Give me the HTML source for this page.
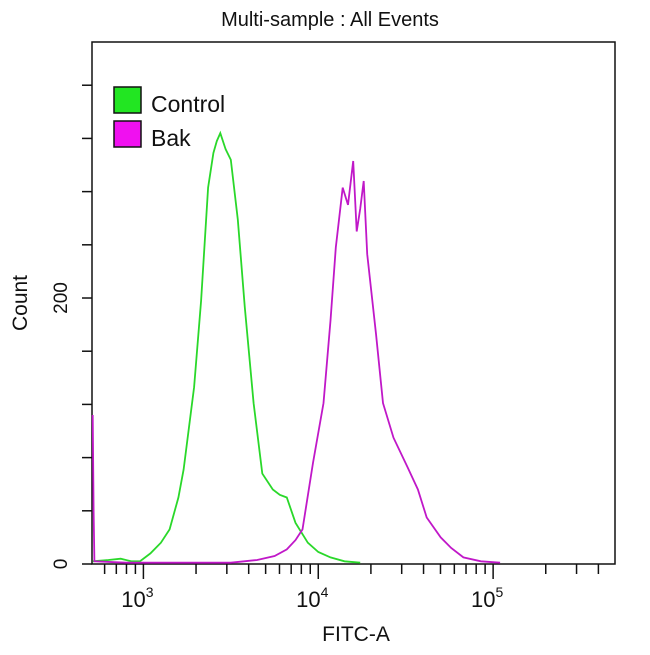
<!DOCTYPE html>
<html><head><meta charset="utf-8"><style>
body{margin:0;background:#fff;}
svg text{font-family:"Liberation Sans",sans-serif;fill:#111;}
</style></head><body>
<svg id="chart" width="650" height="650" xmlns="http://www.w3.org/2000/svg">
<text x="330" y="26" font-size="20" text-anchor="middle">Multi-sample : All Events</text>
<rect x="92" y="42" width="523" height="522" fill="none" stroke="#111" stroke-width="1.5"/>
<text transform="translate(27,303) rotate(-90)" font-size="21" text-anchor="middle">Count</text>
<text x="356" y="641" font-size="21" text-anchor="middle">FITC-A</text>
<g id="axes"></g>
<g id="series"></g>
<g>
<rect x="114" y="87" width="27" height="26" fill="#22e622" stroke="#111" stroke-width="1.5"/>
<text x="151" y="112" font-size="23">Control</text>
<rect x="114" y="121" width="27" height="26" fill="#f010f0" stroke="#111" stroke-width="1.5"/>
<text x="151" y="146" font-size="23">Bak</text>
</g>
</svg>
<script>
const controlLog = [2.71,2.80,2.87,2.93,2.98,3.04,3.10,3.15,3.20,3.23,3.29,3.33,3.37,3.40,3.42,3.44,3.47,3.50,3.54,3.58,3.63,3.68,3.74,3.78,3.82,3.87,3.94,4.00,4.07,4.15,4.24];
const controlCount = [2,3,4,2,2,8,16,26,50,71,133,198,283,309,318,324,312,304,259,193,121,68,56,52,50,31,16,9,5,2,1];
const bakLog = [2.71,2.715,2.72,2.90,3.10,3.30,3.50,3.65,3.75,3.82,3.87,3.91,3.97,4.03,4.07,4.10,4.14,4.17,4.20,4.22,4.24,4.26,4.28,4.33,4.37,4.43,4.51,4.57,4.62,4.70,4.76,4.83,4.93,5.04];
const bakCount = [112,40,2,1,1,1,1,3,6,11,18,26,76,121,183,238,283,270,303,250,267,288,233,173,121,95,73,56,35,20,12,5,2,1];
const yTicks = [0,40,80,120,160,200,240,280,320,360];
const yLabels = ["0","200"];
const xDecades = [3,4,5];
const xDecadeLabels = ["10","10","10"];
const xDecadeExps = ["3","4","5"];

const L=92,R=615,T=42,B=564;
const logMin=2.706, logMax=5.697;
const yMax=392.5;
function xs(l){return L+(l-logMin)/(logMax-logMin)*(R-L);}
function ys(c){return B-c/yMax*(B-T);}
const NS="http://www.w3.org/2000/svg";
const axes=document.getElementById('axes');
function mk(tag,attrs,parent){const e=document.createElementNS(NS,tag);for(const k in attrs)e.setAttribute(k,attrs[k]);parent.appendChild(e);return e;}

yTicks.forEach(v=>{
  const t=mk('line',{x1:L-10,x2:L,y1:ys(v),y2:ys(v),stroke:'#111','stroke-width':1.5},axes);
  
  
});
yLabels.forEach(s=>{
  const v=+s;
  const t=mk('text',{transform:`translate(${L-25},${ys(v)}) rotate(-90)`,'font-size':19,'text-anchor':'middle'},axes);
  t.textContent=s;
  
  
});
for(let d=2;d<=5;d++){
  for(let m=1;m<=9;m++){
    const l=d+Math.log10(m);
    if(l<logMin||l>logMax)continue;
    const major=(m===1);
    const t=mk('line',{x1:xs(l),x2:xs(l),y1:B,y2:B+(major?15:10),stroke:'#111','stroke-width':1.5},axes);
    
    
  }
}
xDecades.forEach((d,i)=>{
  const t=mk('text',{x:xs(d)-6,y:607,'font-size':22,'text-anchor':'middle'},axes);
  t.textContent=xDecadeLabels[i];
  const s=mk('tspan',{dy:-10,'font-size':14},t);
  s.textContent=xDecadeExps[i];
  
  
});

const series=document.getElementById('series');
function draw(lg,cnt,color,name){
  let d='';
  lg.forEach((l,i)=>{d+=(i?'L':'M')+xs(l).toFixed(1)+' '+ys(cnt[i]).toFixed(1);});
  const p=mk('path',{d:d,fill:'none',stroke:color,'stroke-width':1.8},series);
  
  
}
draw(controlLog,controlCount,'#2ad82a','control-histogram');
draw(bakLog,bakCount,'#c018c8','bak-histogram');
</script>
</body></html>
